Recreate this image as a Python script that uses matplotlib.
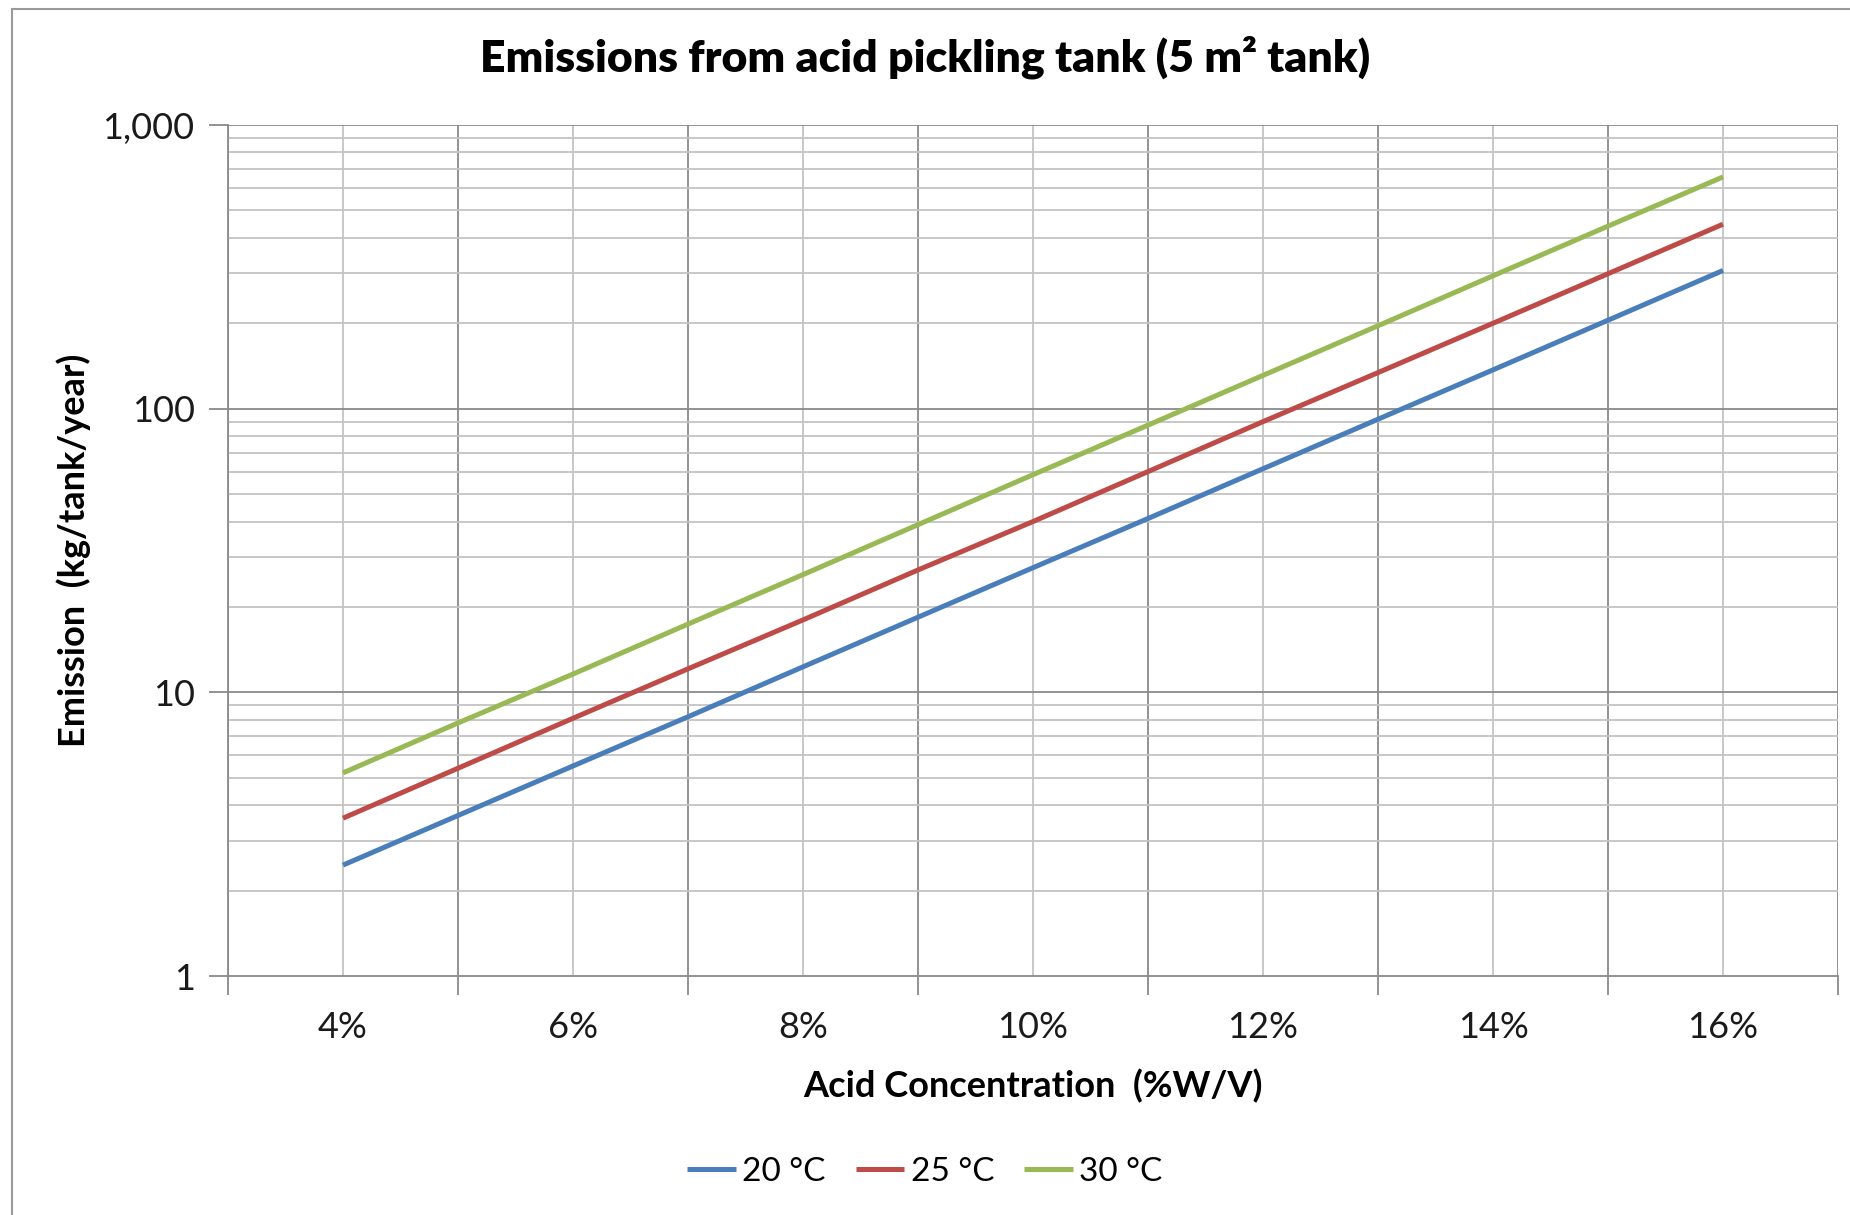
import matplotlib
matplotlib.use("Agg")
import matplotlib.pyplot as plt
from matplotlib.ticker import FixedLocator, NullFormatter, FuncFormatter
from matplotlib.patches import Rectangle

# ---- data ----
concentration = [4, 5, 6, 7, 8, 9, 10, 11, 12, 13, 14, 15, 16]  # %W/V
emis_20 = [2.46, 3.68, 5.5, 8.2, 12.3, 18.4, 27.5, 41, 61.4, 91.8, 137, 205, 307]
emis_25 = [3.6, 5.4, 8.1, 12.1, 18.0, 27, 40, 60, 90, 134, 200, 299, 447]
emis_30 = [5.2, 7.8, 11.6, 17.4, 26, 39, 58.5, 87.5, 131, 196, 294, 440, 656]
series_labels = ["20 °C", "25 °C", "30 °C"]
x_label_ticks = [4, 6, 8, 10, 12, 14, 16]
x_tick_labels = ["4%", "6%", "8%", "10%", "12%", "14%", "16%"]
y_ticks = [1, 10, 100, 1000]
y_tick_labels = ["1", "10", "100", "1,000"]

colors = ["#4A7EBB", "#BE4B48", "#98B954"]

plt.rcParams['font.family'] = ['Lato', 'DejaVu Sans']

fig = plt.figure(figsize=(18.5, 12.15), dpi=100)
ax = fig.add_axes([228/1850, 1 - 976/1215, (1838-228)/1850, (976-125)/1215])

for ys, c, lab in zip([emis_20, emis_25, emis_30], colors, series_labels):
    ax.plot(concentration, ys, color=c, lw=3.6, label=lab, solid_capstyle='butt', zorder=3)

ax.set_yscale('log')
ax.set_ylim(1, 1000)
ax.set_xlim(3, 17)

# gridlines
for v in range(3, 18, 2):
    ax.axvline(v, color='#8a8a8a', lw=1.3, zorder=1)
for v in range(4, 17, 2):
    ax.axvline(v, color='#c4c4c4', lw=1.3, zorder=1)
for d in [1, 10, 100]:
    for m in range(2, 10):
        ax.axhline(d*m, color='#c4c4c4', lw=1.3, zorder=1)
for d in [10, 100, 1000]:
    ax.axhline(d, color='#8a8a8a', lw=1.3, zorder=1)

# ticks
ax.xaxis.set_major_locator(FixedLocator(list(range(3, 18, 2))))
ax.xaxis.set_major_formatter(NullFormatter())
ax.xaxis.set_minor_locator(FixedLocator(x_label_ticks))
ax.xaxis.set_minor_formatter(FuncFormatter(lambda v, p: x_tick_labels[x_label_ticks.index(int(round(v)))] if int(round(v)) in x_label_ticks else ""))
ax.tick_params(axis='x', which='major', direction='out', length=14, width=1.3, color='#8a8a8a')
ax.tick_params(axis='x', which='minor', length=0, labelsize=26, pad=25, labelcolor='#1a1a1a')

ax.yaxis.set_major_locator(FixedLocator(y_ticks))
ax.set_yticklabels(y_tick_labels)
ax.yaxis.set_minor_locator(FixedLocator([]))
ax.tick_params(axis='y', which='major', direction='out', length=14, width=1.3, color='#8a8a8a',
               labelsize=26, pad=10, labelcolor='#1a1a1a')

for s in ['top', 'right']:
    ax.spines[s].set_visible(False)
for s in ['left', 'bottom']:
    ax.spines[s].set_color('#8a8a8a')
    ax.spines[s].set_linewidth(1.3)

ax.set_xlabel("Acid Concentration  (%W/V)", fontsize=26, fontweight='bold', va='center')
ax.xaxis.set_label_coords(0.5, -0.129)
ax.set_ylabel("Emission  (kg/tank/year)", fontsize=26, fontweight='bold', va='center')
ax.yaxis.set_label_coords(-0.096, 0.5)

fig.suptitle("Emissions from acid pickling tank (5 m² tank)", fontsize=32, fontweight='heavy',
             y=1 - 57/1215, va='center')

leg = fig.legend(loc='center', bbox_to_anchor=(0.5, 1 - 1172/1215), ncol=3, frameon=False,
                 fontsize=24, handlelength=1.45, handletextpad=0.2, columnspacing=0.9)

# outer chart border
fig.patches.append(Rectangle((12/1850, -0.01), 2.0, (1215-9)/1215 + 0.01, transform=fig.transFigure,
                             fill=False, edgecolor='#9a9a9a', lw=1.5))

fig.savefig("out.png", dpi=100)
